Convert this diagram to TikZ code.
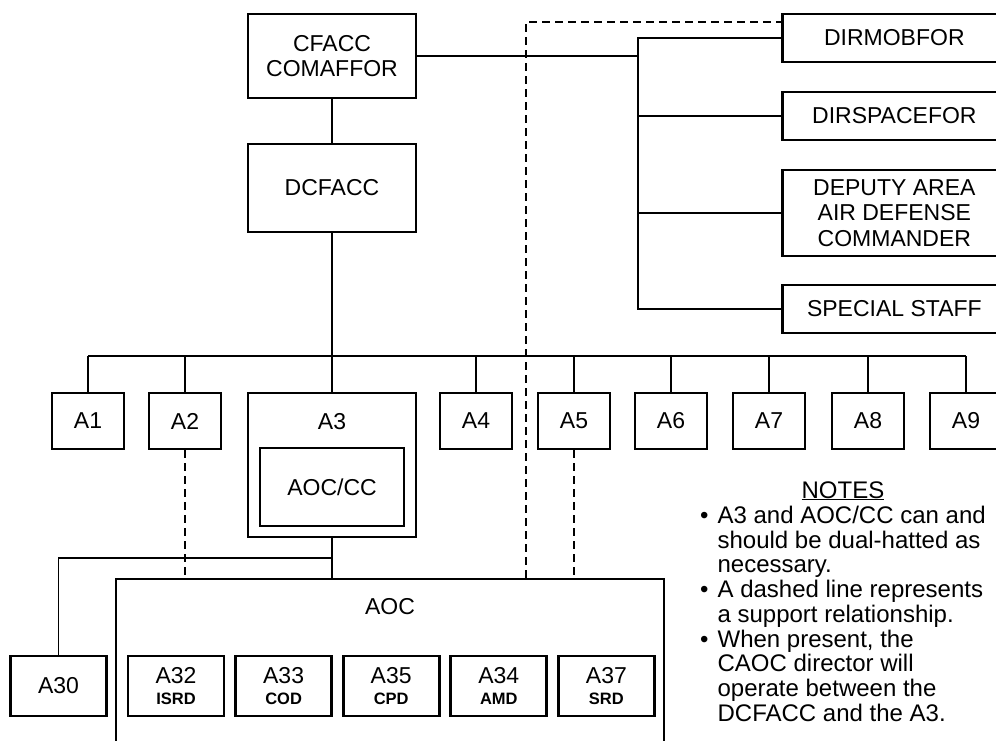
\documentclass[tikz,border=0pt]{standalone}
\usepackage{fontspec}
\setmainfont{Liberation Sans}
\usetikzlibrary{positioning,calc}
\newcommand{\unitlbl}[2]{#1\\[-4pt]{\fontsize{16.5}{17}\selectfont\bfseries #2}}

\begin{document}
\begin{tikzpicture}[x=1pt, y=-1pt,
    box/.style={draw, line width=2.7pt, inner sep=0pt, align=center,
      font=\fontsize{23}{25.5}\selectfont, minimum width=72pt, minimum height=56pt},
    wide/.style={box, minimum width=224pt, minimum height=48pt, anchor=west},
    sub/.style={box, minimum width=96pt, minimum height=60pt},
    link/.style={line width=1.5pt},
    support/.style={line width=1.8pt, dash pattern=on 8pt off 5pt},
    notes/.style={font=\fontsize{24}{24.5}\selectfont, inner sep=0pt}]
    \clip (0,0) rectangle (996,740);

    % Command
    \node[box, minimum width=168pt, minimum height=84pt] (cfacc) at (332,56) {CFACC\\COMAFFOR};
    \node[box, minimum width=168pt, minimum height=88pt] (dcfacc) at (332,188) {DCFACC};

    % Special staff
    \node[wide] (dirmob) at (781,38) {DIRMOBFOR};
    \node[wide] (dirspace) at (781,116) {DIRSPACEFOR};
    \node[wide, minimum height=86pt] (deputy) at (781,213) {DEPUTY AREA\\AIR DEFENSE\\COMMANDER};
    \node[wide] (special) at (781,309) {SPECIAL STAFF};

    % Directorates
    \foreach \n/\x in {1/88,2/185,4/476,5/574,6/671,7/769,8/868,9/966}
        \node[box] (a\n) at (\x,421) {A\n};
    \node[box, minimum width=168pt, minimum height=144pt,
        label={[font=\fontsize{23}{25.5}\selectfont, anchor=center, yshift=-30pt]north:A3}] (a3) at (332,465) {};
    \node[box, minimum width=144pt, minimum height=78pt] (aoccc) at (332,487) {AOC/CC};

    % AOC
    \node[box, minimum width=548pt, minimum height=200pt,
        label={[font=\fontsize{23}{25.5}\selectfont, anchor=center, yshift=-29pt]north:AOC}] (aoc) at (390,679) {};
    \node[sub] (a30) at (58.5,686) {A30};
    \foreach \n/\d [count=\i from 0] in {32/ISRD,33/COD,35/CPD,34/AMD,37/SRD}
        \node[sub] (a\n) at ({176+107.6*\i},686) {\unitlbl{A\n}{\d}};

    % Lines
    \coordinate (trunk) at (638,56);
    \coordinate (bus) at (332,356);
    \coordinate (split) at (332,558);
    \coordinate (corner) at (526,22);
    \draw[link] (cfacc) -- (dcfacc);
    \draw[link] (cfacc.east) -- (trunk);
    \draw[link] (dirmob.west) -- (dirmob.west -| trunk) -- (special.west -| trunk) -- (special.west);
    \draw[link] (dirspace.west) -- (dirspace.west -| trunk);
    \draw[link] (deputy.west) -- (deputy.west -| trunk);
    \draw[link] (dcfacc) -- (bus);
    \draw[link] (a1.north |- bus) -- (a9.north |- bus);
    \foreach \n in {1,...,9}
        \draw[link] (a\n.north) -- (a\n.north |- bus);
    \draw[link] (a3.south) -- (a3.south |- aoc.north);
    \draw[link] (split) -| (a30.north);

    % Support
    \draw[support] (a2.south) -- (a2.south |- aoc.north);
    \draw[support] (a5.south) -- (a5.south |- aoc.north);
    \draw[support] (aoc.north -| corner) -- (corner) -- (corner -| dirmob.west);

    % Notes
    \node[notes, anchor=base] (notehead) at (843,498) {\underline{NOTES}};
    \node[notes, anchor=north west] (notelist) at (700,506) {%
        \begin{tabular}{@{}c@{\hspace{9pt}}l@{}}
            \textbullet & A3 and AOC/CC can and\\
                        & should be dual-hatted as\\
                        & necessary.\\
            \textbullet & A dashed line represents\\
                        & a support relationship.\\
            \textbullet & When present, the\\
                        & CAOC director will\\
                        & operate between the\\
                        & DCFACC and the A3.
        \end{tabular}};
\end{tikzpicture}
\end{document}
